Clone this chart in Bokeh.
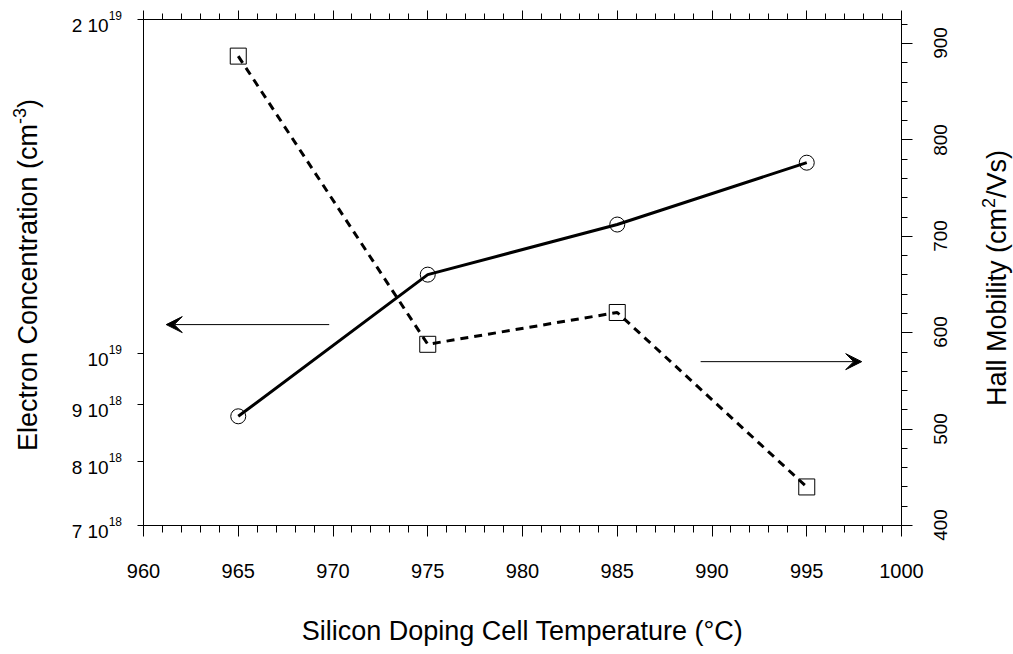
import math
from bokeh.plotting import figure
from bokeh.layouts import row
from bokeh.models import (Range1d, LinearAxis, LinearScale, FixedTicker, Arrow,
                          VeeHead, Div)
from bokeh.embed import file_html
from bokeh.resources import INLINE

# ---- data ----
temperature = [965, 975, 985, 995]
electron_conc = [8.78e18, 1.178e19, 1.307e19, 1.486e19]
hall_mobility = [887, 588, 621, 440]

x_ticks = [960, 965, 970, 975, 980, 985, 990, 995, 1000]
x_minor = list(range(960, 1001))
conc_ticks = [7e18, 8e18, 9e18, 1e19, 2e19]
conc_tick_main = ["7 10", "8 10", "9 10", "10", "2 10"]
conc_tick_exp = ["18", "18", "18", "19", "19"]
mob_ticks = [400, 500, 600, 700, 800, 900]
mob_tick_labels = ["400", "500", "600", "700", "800", "900"]
mob_minor = list(range(400, 926, 20))

x_title = "Silicon Doping Cell Temperature (°C)"
conc_title = ("Electron Concentration (cm", "-3", ")")
mob_title = ("Hall Mobility (cm", "2", "/Vs)")

# arrows: [x_start, x_end, y]
arrow_conc = [969.8, 961.2, 1.062e19]
arrow_mob = [989.4, 997.9, 570]

FONT = "Liberation Sans"
H = 654
TOP, BOTTOM = 19, 129
FRAME_H = H - TOP - BOTTOM
CONC_RANGE = (7e18, 2e19)
MOB_RANGE = (400, 925)
LEFT_W, MAIN_W, RIGHT_W = 125, 802, 86

# ---------------- main plot ----------------
p = figure(width=MAIN_W, height=H, x_range=Range1d(960, 1000),
           y_range=Range1d(*CONC_RANGE), y_axis_type="log",
           output_backend="svg", toolbar_location=None,
           min_border_left=18, min_border_right=26,
           min_border_top=TOP, min_border_bottom=BOTTOM)
p.extra_y_ranges = {"mob": Range1d(*MOB_RANGE)}
p.extra_y_scales = {"mob": LinearScale()}
p.grid.visible = False
p.outline_line_color = None

xa = p.xaxis[0]
xa.ticker = FixedTicker(ticks=x_ticks, minor_ticks=x_minor)
xa.axis_label = x_title
xa.major_label_text_font = FONT
xa.major_label_text_font_size = "20px"
xa.major_label_text_color = "black"
xa.major_label_standoff = 27
xa.axis_label_text_font = FONT
xa.axis_label_text_font_size = "27px"
xa.axis_label_text_font_style = "normal"
xa.axis_label_text_color = "black"
xa.axis_label_standoff = 35
xa.major_tick_out = 11
xa.minor_tick_out = 7

ya = p.yaxis[0]
ya.ticker = FixedTicker(ticks=[], minor_ticks=conc_ticks)
ya.minor_tick_out = 6

top = LinearAxis(ticker=FixedTicker(ticks=x_ticks, minor_ticks=x_minor),
                 major_tick_out=9, minor_tick_out=6,
                 major_label_text_color=None, major_label_text_font_size="1px",
                 major_label_standoff=0)
p.add_layout(top, "above")

ra = LinearAxis(y_range_name="mob",
                ticker=FixedTicker(ticks=mob_ticks, minor_ticks=mob_minor),
                major_tick_out=11, minor_tick_out=6,
                major_label_text_color=None, major_label_text_font_size="1px",
                major_label_standoff=0)
p.add_layout(ra, "right")

for ax in [xa, ya, top, ra]:
    ax.axis_line_color = "black"
    ax.axis_line_width = 1
    ax.major_tick_line_color = "black"
    ax.minor_tick_line_color = "black"
    ax.major_tick_in = 0
    ax.minor_tick_in = 0

p.line(temperature, electron_conc, line_width=3, line_color="black")
p.scatter(temperature, electron_conc, marker="circle", size=15,
          fill_color=None, line_color="black", line_width=1)
p.line(temperature, hall_mobility, y_range_name="mob", line_width=3,
       line_color="black", line_dash="8 6")
p.scatter(temperature, hall_mobility, y_range_name="mob", marker="square",
          size=16, fill_color=None, line_color="black", line_width=1)

p.add_layout(Arrow(end=VeeHead(size=16, fill_color="black", line_color="black"),
                   x_start=arrow_conc[0], x_end=arrow_conc[1],
                   y_start=arrow_conc[2], y_end=arrow_conc[2],
                   line_width=1, line_color="black"))
p.add_layout(Arrow(end=VeeHead(size=16, fill_color="black", line_color="black"),
                   x_start=arrow_mob[0], x_end=arrow_mob[1],
                   y_start=arrow_mob[2], y_end=arrow_mob[2],
                   y_range_name="mob", line_width=1, line_color="black"))


# ---------------- side label strips (HTML text) ----------------
def conc_row(v):
    lo, hi = CONC_RANGE
    return TOP + (math.log10(hi) - math.log10(v)) / (math.log10(hi) - math.log10(lo)) * FRAME_H


def mob_row(v):
    lo, hi = MOB_RANGE
    return TOP + (hi - v) / (hi - lo) * FRAME_H


base = f"font-family:'{FONT}';color:#000;white-space:nowrap;line-height:1;position:absolute;"

left_parts = []
for t, main, ex in zip(conc_ticks, conc_tick_main, conc_tick_exp):
    left_parts.append(
        f'<div style="{base}right:3px;top:{conc_row(t) + 6:.1f}px;'
        f'transform:translateY(-50%);font-size:19px;">{main}'
        f'<span style="font-size:12px;position:relative;top:-12px;">{ex}</span></div>')
left_parts.append(
    f'<div style="{base}left:28px;top:{TOP + FRAME_H / 2 + 3:.1f}px;font-size:27px;'
    f'transform:translate(-50%,-50%) rotate(-90deg);">{conc_title[0]}'
    f'<span style="font-size:18px;position:relative;top:-11px;">{conc_title[1]}</span>'
    f'{conc_title[2]}</div>')
left_html = (f'<div style="position:relative;width:{LEFT_W}px;height:{H}px;">'
             + "".join(left_parts) + "</div>")

right_parts = []
for t, lab in zip(mob_ticks, mob_tick_labels):
    right_parts.append(
        f'<div style="{base}left:13px;top:{mob_row(t):.1f}px;font-size:19px;'
        f'transform:translate(-50%,-50%) rotate(-90deg);">{lab}</div>')
right_parts.append(
    f'<div style="{base}left:70px;top:{TOP + FRAME_H / 2 + 6:.1f}px;font-size:27px;'
    f'transform:translate(-50%,-50%) rotate(-90deg);">{mob_title[0]}'
    f'<span style="font-size:18px;position:relative;top:-11px;">{mob_title[1]}</span>'
    f'{mob_title[2]}</div>')
right_html = (f'<div style="position:relative;width:{RIGHT_W}px;height:{H}px;">'
              + "".join(right_parts) + "</div>")

L = Div(text=left_html, width=LEFT_W, height=H, margin=0)
R = Div(text=right_html, width=RIGHT_W, height=H, margin=0)

layout = row(L, p, R, spacing=0)
open("out.html", "w").write(file_html(layout, INLINE))
